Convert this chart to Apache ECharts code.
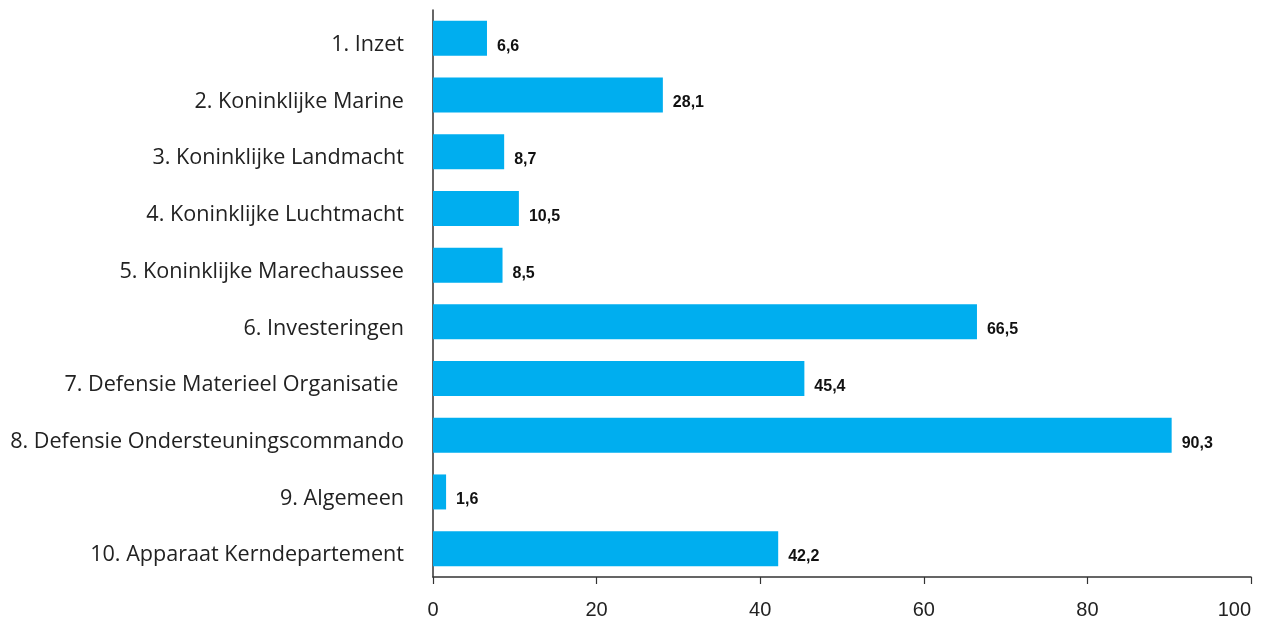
<!DOCTYPE html>
<html>
<head>
<meta charset="utf-8">
<script src="https://cdn.jsdelivr.net/npm/echarts@6/dist/echarts.min.js"></script>
<style>html,body{margin:0;padding:0;background:#fff}#c{width:1264px;height:622px}</style>
</head>
<body>
<div id="c"></div>
<script>
var categories = [
  "1. Inzet",
  "2. Koninklijke Marine",
  "3. Koninklijke Landmacht",
  "4. Koninklijke Luchtmacht",
  "5. Koninklijke Marechaussee",
  "6. Investeringen",
  "7. Defensie Materieel Organisatie ",
  "8. Defensie Ondersteuningscommando",
  "9. Algemeen",
  "10. Apparaat Kerndepartement"
];
var values = [6.6, 28.1, 8.7, 10.5, 8.5, 66.5, 45.4, 90.3, 1.6, 42.2];
var xTicks = [0, 20, 40, 60, 80, 100];

// fit category label font size so the longest label spans ~394px like the reference
var catFamily = '"Open Sans", "Liberation Sans", Arial, sans-serif';
var ctx = document.createElement('canvas').getContext('2d');
ctx.font = '20px ' + catFamily;
var longest = categories.reduce(function (a, b) { return ctx.measureText(b).width > ctx.measureText(a).width ? b : a; });
var catSize = Math.min(22, Math.max(17, 20 * 394 / ctx.measureText(longest).width));

var chart = echarts.init(document.getElementById('c'));
chart.setOption({
  animation: false,
  grid: { left: 433, right: 13, top: 10, bottom: 45, containLabel: false },
  xAxis: {
    type: 'value', min: xTicks[0], max: xTicks[xTicks.length - 1], interval: xTicks[1] - xTicks[0],
    axisLine: { show: true, lineStyle: { color: '#333', width: 1.5 } },
    axisTick: { show: true, length: 7, lineStyle: { color: '#333', width: 1.2 } },
    splitLine: { show: false },
    axisLabel: { fontFamily: 'Liberation Sans, Arial, sans-serif', fontSize: 20, color: '#222', margin: 23, alignMaxLabel: 'right' }
  },
  yAxis: {
    type: 'category', data: categories, inverse: true,
    axisLine: { show: true, lineStyle: { color: '#333', width: 1.5 } },
    axisTick: { show: false },
    axisLabel: {
      margin: 29,
      formatter: function (v) { return '{c|' + v + '}'; },
      rich: { c: { fontFamily: catFamily, fontSize: catSize, color: '#222', padding: [13, 0, 0, 0] } }
    }
  },
  series: [{
    type: 'bar', data: values, barWidth: 35,
    itemStyle: { color: '#00aeef' },
    label: {
      show: true, position: 'right', distance: 10,
      fontFamily: 'Liberation Sans, Arial, sans-serif', fontSize: 16, fontWeight: 'bold', color: '#111',
      offset: [0, 8],
      formatter: function (p) { return p.value.toFixed(1).replace('.', ','); }
    }
  }]
});
</script>
</body>
</html>
